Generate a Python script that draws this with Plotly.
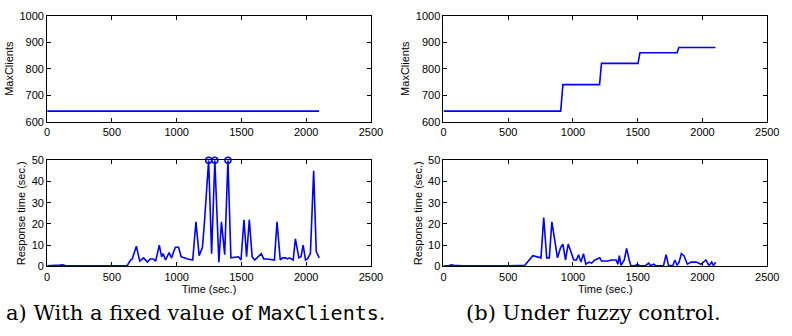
import plotly.graph_objects as go

# ---- data ----
# (a) fixed MaxClients
a_max_t = [0, 2100]
a_max_v = [640, 640]

a_rt_t = [0, 40, 100, 120, 140, 200, 300, 400, 480, 500, 600, 619, 644, 657, 689, 715, 745, 775, 795, 821,
          838, 866, 884, 896, 914, 942, 960, 990, 1015, 1035, 1086, 1124, 1149, 1174, 1199, 1215, 1247,
          1270, 1295, 1326, 1346, 1371, 1396, 1419, 1477, 1497, 1520, 1540, 1561, 1583, 1603, 1654,
          1672, 1700, 1755, 1775, 1800, 1818, 1840, 1856, 1870, 1890, 1900, 1917, 1944, 1960, 1977,
          1995, 2010, 2033, 2058, 2078, 2101]
a_rt_v = [0.3, 0.3, 0.6, 0.7, 0.4, 0.3, 0.3, 0.3, 0.5, 0.3, 0.3, 0.4, 3, 3.5, 9.5, 2.5, 4, 2, 3.5, 3.5,
          2.5, 10, 4.5, 6, 3, 6.5, 4, 9, 9, 4.5, 3.5, 3, 21, 5, 9, 21, 50,
          6, 50, 2, 21, 5.5, 50, 4, 4.5, 3, 22, 4.5, 22, 4.5, 3, 6,
          3.5, 3.5, 3, 21, 3, 4, 4, 3.5, 4, 3.5, 3, 13, 4, 4.5, 10,
          3, 3.5, 6, 45, 7, 4]

# (b) fuzzy control
b_max_t = [0, 905, 922, 1205, 1220, 1502, 1517, 1804, 1817, 2100]
b_max_v = [640, 640, 740, 740, 820, 820, 860, 860, 880, 880]

b_rt_t = [0, 40, 60, 80, 150, 250, 270, 400, 500, 600, 628, 690, 753, 774, 797, 817, 837, 880, 905, 922,
          942, 963, 988, 1006, 1026, 1043, 1061, 1081, 1099, 1124, 1144, 1169, 1207, 1220, 1270, 1295,
          1333, 1346, 1358, 1371, 1396, 1414, 1434, 1447, 1480, 1497, 1515, 1560, 1585, 1600, 1623,
          1640, 1699, 1719, 1737, 1770, 1787, 1804, 1819, 1837, 1857, 1883, 1913, 1951, 1988, 2026,
          2051, 2071, 2085, 2101]
b_rt_v = [0.3, 0.3, 0.7, 0.5, 0.3, 0.4, 0.3, 0.3, 0.3, 0.3, 0.5, 5, 4, 23, 4, 4, 21, 4, 9, 10.5,
          3, 10.5, 6, 3, 3, 5.5, 2, 6, 1, 2, 1.5, 3, 4, 2.5, 2.5, 3,
          3, 1, 5, 0.5, 3, 8.5, 3, 0.3, 0.3, 1, 0.3, 0.3, 1.5, 0.3, 1,
          0.3, 0.3, 5.5, 0.5, 0.3, 3, 0.5, 2, 6, 5, 1, 2, 2, 1, 3,
          0.3, 2, 0.3, 2]

RT_CAP = 50
x_ticks = [0, 500, 1000, 1500, 2000, 2500]
top_ticks = [600, 700, 800, 900, 1000]
bot_ticks = [0, 10, 20, 30, 40, 50]

BLUE = "#0000ff"
W, H = 792, 336

fig = go.Figure()

def px_x(p):
    return p / W

def px_y(p):
    return 1 - p / H

dom_a = [px_x(45), px_x(375)]
dom_b = [px_x(449), px_x(779)]
dom_top = [px_y(120), px_y(10)]
dom_bot = [px_y(270), px_y(160)]

line = dict(color=BLUE, width=1.6)
fig.add_trace(go.Scatter(x=a_max_t, y=a_max_v, mode="lines", line=line, xaxis="x", yaxis="y"))
fig.add_trace(go.Scatter(x=b_max_t, y=b_max_v, mode="lines", line=line, xaxis="x2", yaxis="y2"))
fig.add_trace(go.Scatter(x=a_rt_t, y=a_rt_v, mode="lines", line=line, xaxis="x3", yaxis="y3"))
fig.add_trace(go.Scatter(x=b_rt_t, y=b_rt_v, mode="lines", line=line, xaxis="x4", yaxis="y4"))

cap_t = [t for t, v in zip(a_rt_t, a_rt_v) if v >= RT_CAP]
cap_v = [v for v in a_rt_v if v >= RT_CAP]
fig.add_trace(go.Scatter(x=cap_t, y=cap_v, mode="markers", cliponaxis=False,
                         marker=dict(symbol="circle-open", size=6, color=BLUE, line=dict(width=1.5)),
                         xaxis="x3", yaxis="y3"))

font = dict(family="Liberation Sans, Arial", size=11, color="black")
axcommon = dict(showline=True, linecolor="black", linewidth=1, mirror="allticks",
                ticks="inside", ticklen=4, tickcolor="black", showgrid=False, zeroline=False,
                tickfont=font)

def xax(dom, anchor, title=None):
    d = dict(axcommon, domain=dom, anchor=anchor, range=[0, 2500], tickvals=x_ticks)
    if title:
        d["title"] = dict(text=title, font=font, standoff=0)
    return d

def yax(dom, anchor, rng, tv, title, standoff):
    return dict(axcommon, domain=dom, anchor=anchor, range=rng, tickvals=tv,
                title=dict(text=title, font=font, standoff=standoff))

fig.update_layout(
    width=W, height=H,
    margin=dict(l=0, r=0, t=0, b=0),
    paper_bgcolor="white", plot_bgcolor="white",
    showlegend=False,
    xaxis=xax(dom_a, "y"),
    yaxis=yax(dom_top, "x", [600, 1000], top_ticks, "MaxClients", 3),
    xaxis2=xax(dom_b, "y2"),
    yaxis2=yax(dom_top, "x2", [600, 1000], top_ticks, "MaxClients", 3),
    xaxis3=xax(dom_a, "y3", "Time (sec.)"),
    yaxis3=yax(dom_bot, "x3", [0, 50], bot_ticks, "Response time (sec.)", 3),
    xaxis4=xax(dom_b, "y4", "Time (sec.)"),
    yaxis4=yax(dom_bot, "x4", [0, 50], bot_ticks, "Response time (sec.)", 3),
)

serif = dict(family="DejaVu Serif, Liberation Serif, serif", size=21, color="black")
mono = "DejaVu Sans Mono, Liberation Mono, monospace"
fig.add_annotation(
    x=px_x(1), y=px_y(318), xref="paper", yref="paper", xanchor="left", yanchor="middle",
    showarrow=False, font=serif,
    text=f"a) With a fixed value of <span style='font-family:{mono};font-size:20px'>MaxClients</span>.")
fig.add_annotation(
    x=px_x(470), y=px_y(318), xref="paper", yref="paper", xanchor="left", yanchor="middle",
    showarrow=False, font=serif, text="(b) Under fuzzy control.")

fig.write_html("out.html", config={"displayModeBar": False},
               post_script="document.body.style.margin='0';document.body.style.padding='0';")
